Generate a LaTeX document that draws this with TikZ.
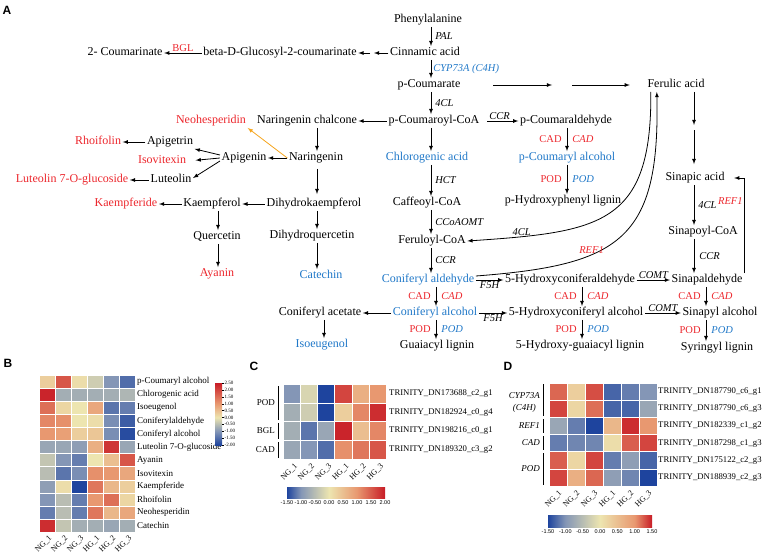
\documentclass[tikz,border=0pt]{standalone}
\usepackage{fontspec}
\setmainfont{Liberation Serif}
\setsansfont{Liberation Sans}
\usetikzlibrary{arrows}

\definecolor{metred}{RGB}{236,38,44}
\definecolor{metblue}{RGB}{32,120,200}
\definecolor{nhorange}{RGB}{245,165,30}
\definecolor{hmblue}{RGB}{30,68,158}
\definecolor{hmgrey}{RGB}{132,150,182}
\definecolor{hmpale}{RGB}{237,229,176}
\definecolor{hmorange}{RGB}{232,152,112}
\definecolor{hmred}{RGB}{200,28,38}

% colour bars (tikz fits the middle 25bp--75bp to the path)
\pgfdeclareverticalshading{hmbarB}{100bp}{color(0bp)=(hmblue); color(25bp)=(hmblue); color(36.1bp)=(hmgrey); color(47.2bp)=(hmpale); color(58.3bp)=(hmorange); color(75bp)=(hmred); color(100bp)=(hmred)}
\pgfdeclarehorizontalshading{hmbarC}{100bp}{color(0bp)=(hmblue); color(25bp)=(hmblue); color(32.15bp)=(hmgrey); color(46.45bp)=(hmpale); color(60.7bp)=(hmorange); color(75bp)=(hmred); color(100bp)=(hmred)}
\pgfdeclarehorizontalshading{hmbarD}{100bp}{color(0bp)=(hmblue); color(25bp)=(hmblue); color(33.35bp)=(hmgrey); color(50bp)=(hmpale); color(66.65bp)=(hmorange); color(75bp)=(hmred); color(100bp)=(hmred)}

% value -> colour hmtmp
\newcommand\hmsetcolor[1]{%
  \pgfmathsetmacro\hmv{#1}%
  \ifdim\hmv pt<-1pt
    \pgfmathsetmacro\hmp{(\hmv+2)*100}%
    \colorlet{hmtmp}{hmgrey!\hmp!hmblue}%
  \else\ifdim\hmv pt<0pt
    \pgfmathsetmacro\hmp{(\hmv+1)*100}%
    \colorlet{hmtmp}{hmpale!\hmp!hmgrey}%
  \else\ifdim\hmv pt<1pt
    \pgfmathsetmacro\hmp{\hmv*100}%
    \colorlet{hmtmp}{hmorange!\hmp!hmpale}%
  \else
    \pgfmathsetmacro\hmp{min(100,(\hmv-1)/1.5*100)}%
    \colorlet{hmtmp}{hmred!\hmp!hmorange}%
  \fi\fi\fi}

\begin{document}
\begin{tikzpicture}[x=1pt, y=-1pt,
  met/.style={font=\fontsize{12}{14}\selectfont, inner sep=1.5pt, text height=8pt, text depth=2.5pt},
  metr/.style={met, text=metred},
  metb/.style={met, text=metblue},
  enz/.style={font=\fontsize{10.5}{12}\selectfont\itshape, inner sep=1pt},
  enzr/.style={enz, text=metred},
  enzb/.style={enz, text=metblue},
  prot/.style={font=\fontsize{10.5}{12}\selectfont, inner sep=1pt, text=metred},
  arr/.style={-latex, line width=0.8pt},
  panel/.style={font=\fontsize{12}{14}\selectfont\sffamily\bfseries, inner sep=0pt},
  hmlab/.style={font=\fontsize{9}{10}\selectfont, inner sep=1pt, anchor=west},
  genelab/.style={font=\fontsize{8.7}{10}\selectfont, inner sep=1pt, anchor=west},
  grplab/.style={font=\fontsize{9}{10}\selectfont, inner sep=1pt, anchor=east, align=center},
  collab/.style={font=\fontsize{8}{9}\selectfont, inner sep=0.5pt, rotate=45, anchor=east},
  ticklab/.style={font=\fontsize{5.5}{6}\selectfont\sffamily, inner sep=0.5pt},
  cell/.style={draw=white, line width=0.5pt}
]
\useasboundingbox (0,0) rectangle (767,554);

% ---------------- panel A ----------------
\node[panel] (labA) at (7,10) {A};

\coordinate (colM) at (431,0);
\coordinate (colM2) at (436,0);
\coordinate (colP) at (567,0);
\coordinate (colH) at (582,0);
\coordinate (colS) at (706,0);
\coordinate (colF) at (694,0);
\coordinate (colN) at (317,0);
\coordinate (colK) at (218,0);
\coordinate (colA) at (324,0);
\coordinate (bgm) at (374,53);
\coordinate (fa2) at (552,85);
\coordinate (fa3) at (572,85);
\coordinate (fb1) at (694,125);
\coordinate (fb2) at (694,130);

\node[met] (phe) at (428,20) {Phenylalanine};
\node[met] (cin) at (425,53) {Cinnamic acid};
\node[met] (bdg) at (280,53) {beta-D-Glucosyl-2-coumarinate};
\node[met] (cou2) at (125,53) {2- Coumarinate};
\node[met] (pcma) at (429,85) {p-Coumarate};
\node[met] (pcoa) at (434,121) {p-Coumaroyl-CoA};
\node[met] (nchal) at (307,121) {Naringenin chalcone};
\node[metr] (neo) at (211,121) {Neohesperidin};
\node[met] (nar) at (316,158) {Naringenin};
\node[met] (api) at (244,158) {Apigenin};
\node[met] (apt) at (170,142) {Apigetrin};
\node[metr] (rho) at (98,142) {Rhoifolin};
\node[metr] (iso) at (162,161) {Isovitexin};
\node[met] (lut) at (171,180) {Luteolin};
\node[metr] (l7g) at (72,180) {Luteolin 7-O-glucoside};
\node[met] (dhk) at (314,204) {Dihydrokaempferol};
\node[met] (kae) at (212,204) {Kaempferol};
\node[metr] (kde) at (126,204) {Kaempferide};
\node[met] (que) at (217,237) {Quercetin};
\node[metr] (aya) at (217,274) {Ayanin};
\node[met] (dhq) at (312,236) {Dihydroquercetin};
\node[metb] (cat) at (321,276) {Catechin};
\node[metb] (chl) at (427,158) {Chlorogenic acid};
\node[met] (caf) at (427,203) {Caffeoyl-CoA};
\node[met] (frl) at (432,241) {Feruloyl-CoA};
\node[metb] (cald) at (428,280) {Coniferyl aldehyde};
\node[metb] (calc) at (435,313) {Coniferyl alcohol};
\node[met] (cac) at (320,313) {Coniferyl acetate};
\node[metb] (ise) at (322,345) {Isoeugenol};
\node[met] (glig) at (437,346) {Guaiacyl lignin};
\node[met] (pcald) at (566,121) {p-Coumaraldehyde};
\node[metb] (pcalc) at (567,158) {p-Coumaryl alcohol};
\node[met] (phl) at (563,201) {p-Hydroxyphenyl lignin};
\node[met] (fer) at (676,85) {Ferulic acid};
\node[met] (sac) at (695,178) {Sinapic acid};
\node[met] (scoa) at (703,232) {Sinapoyl-CoA};
\node[met] (sald) at (707,280) {Sinapaldehyde};
\node[met] (salc) at (720,313) {Sinapyl alcohol};
\node[met] (slig) at (717,348) {Syringyl lignin};
\node[met] (hcald) at (570,280) {5-Hydroxyconiferaldehyde};
\node[met] (hcalc) at (576,313) {5-Hydroxyconiferyl alcohol};
\node[met] (hglig) at (580,346) {5-Hydroxy-guaiacyl lignin};

% main column
\draw[arr] (phe.south -| colM) -- (cin.north -| colM) node[midway, right=3pt, enz] {PAL};
\draw[arr] (cin.south -| colM) -- (pcma.north -| colM) node[midway, right=1pt, enzb] {CYP73A (C4H)};
\draw[arr] (pcma.south -| colM) -- (pcoa.north -| colM) node[midway, right=3pt, enz] {4CL};
\draw[arr] (pcoa.south -| colM) -- (chl.north -| colM);
\draw[arr] (chl.south -| colM) -- (caf.north -| colM) node[midway, right=3pt, enz] {HCT};
\draw[arr] (caf.south -| colM) -- (frl.north -| colM) node[midway, right=3pt, enz] {CCoAOMT};
\draw[arr] (frl.south -| colM) -- (cald.north -| colM) node[midway, right=3pt, enz] {CCR};
\draw[arr] (cald.south -| colM2) -- (calc.north -| colM2) node[midway, left=4pt, prot] {CAD} node[midway, right=4pt, enzr] {CAD};
\draw[arr] (calc.south -| colM2) -- (glig.north -| colM2) node[midway, left=4pt, prot] {POD} node[midway, right=4pt, enzb] {POD};

% flavonoid branch
\draw[arr] (cin.west) -- (bgm);
\draw[arr] ([xshift=-4pt]bgm) -- (bdg.east);
\draw[arr] (bdg.west) -- (cou2.east) node[midway, above, prot] {BGL};
\draw[arr] (pcoa.west) -- (nchal.east);
\draw[arr] (nchal.south -| colN) -- (nar.north -| colN);
\draw[arr] (nar.west) -- (api.east);
\draw[arr, nhorange] (nar.west) -- (neo.south east);
\draw[arr] ([yshift=3pt]api.west) -- (apt.south east);
\draw[arr, shorten >=8pt] (api.west) -- (iso.east);
\draw[arr] ([yshift=-3pt]api.west) -- ([yshift=2pt]lut.east);
\draw[arr] (apt.west) -- (rho.east);
\draw[arr] (lut.west) -- (l7g.east);
\draw[arr, shorten <=4pt, shorten >=3pt] (nar.south -| colN) -- (dhk.north -| colN);
\draw[arr] (dhk.west) -- (kae.east);
\draw[arr] (kae.west) -- (kde.east);
\draw[arr] (kae.south -| colK) -- (que.north -| colK);
\draw[arr] (que.south -| colK) -- (aya.north -| colK);
\draw[arr] (dhk.south -| colN) -- (dhq.north -| colN);
\draw[arr] (dhq.south -| colN) -- (cat.north -| colN);
\draw[arr] (calc.west) -- (cac.east);
\draw[arr] (cac.south -| colA) -- (ise.north -| colA);

% lignin branch
\draw[arr, shorten <=6pt] (pcoa.east) -- (pcald.west) node[midway, above, enz] {CCR};
\draw[arr] (pcald.south -| colP) -- (pcalc.north -| colP) node[midway, left=4pt, prot] {CAD} node[midway, right=4pt, enzr] {CAD};
\draw[arr] (pcalc.south -| colP) -- (phl.north -| colP) node[midway, left=4pt, prot] {POD} node[midway, right=4pt, enzb] {POD};
\draw[arr] (cald.east) -- (hcald.west) node[midway, below, enz] {F5H};
\draw[arr] (calc.east) -- (hcalc.west) node[midway, below, enz] {F5H};
\draw[arr] (hcald.south -| colH) -- (hcalc.north -| colH) node[midway, left=4pt, prot] {CAD} node[midway, right=4pt, enzr] {CAD};
\draw[arr] (hcalc.south -| colH) -- (hglig.north -| colH) node[midway, left=4pt, prot] {POD} node[midway, right=4pt, enzb] {POD};
\draw[arr] (hcald.east) -- (sald.west) node[midway, above, enz] {COMT};
\draw[arr] (hcalc.east) -- (salc.west) node[midway, above, enz] {COMT};
\draw[arr] (sald.south -| colS) -- (salc.north -| colS) node[midway, left=4pt, prot] {CAD} node[midway, right=4pt, enzr] {CAD};
\draw[arr] (salc.south -| colS) -- (slig.north -| colS) node[midway, left=4pt, prot] {POD} node[midway, right=4pt, enzb] {POD};

% ferulic / sinapic
\draw[arr, shorten <=31pt] (pcma.east) -- (fa2);
\draw[arr, shorten >=16pt] (fa3) -- (fer.west);
\draw[arr] (fer.south -| colF) -- (fb1);
\draw[arr, shorten >=7pt] (fb2) -- (sac.north -| colF);
\draw[arr] (sac.south -| colF) -- (scoa.north -| colF) node[midway, right=3pt, enz] {4CL};
\draw[arr] (scoa.south -| colF) -- (sald.north -| colF) node[midway, right=4pt, enz] {CCR};
\draw[arr, shorten >=8pt] (sald.north east) |- (sac.east) node[pos=0.38, left=0pt, enzr] {REF1};
\draw[arr] ([xshift=5pt]fer.south west) .. controls (652,225) and (600,232) .. (frl.east) node[pos=0.85, above, enz] {4CL};
\draw[arr] ([yshift=4pt]cald.east) .. controls (620,265) and (660,240) .. ([xshift=11pt]fer.south west) node[pos=0.35, above, enzr] {REF1};

% ---------------- panel B ----------------
\node[panel] (labB) at (8,363) {B};
\foreach \vals [count=\hr] in {
  {0.3,1.8,0.1,-0.3,-1.0,-1.5},
  {2.4,-0.7,-0.7,-0.7,-0.7,-0.6},
  {1.5,0.2,0.0,0.8,-1.4,-1.3},
  {1.2,1.1,0.0,0.1,-1.1,-1.7},
  {1.0,0.9,0.3,0.4,-1.1,-1.9},
  {-0.8,-0.8,-0.9,0.7,2.2,-0.8},
  {-0.4,-1.0,-1.3,0.0,0.5,1.8},
  {-0.5,-1.4,-1.1,1.1,1.0,0.8},
  {-0.9,0.1,-2.0,1.4,0.6,0.3},
  {-1.0,-0.5,-1.3,1.0,1.5,0.2},
  {-1.3,-0.5,-1.3,1.4,0.6,0.8},
  {2.3,-0.4,-0.7,-0.7,-0.8,-0.7}}{
  \foreach \v [count=\hc] in \vals {
    \hmsetcolor{\v}
    \fill[hmtmp, cell] ({39+(\hc-1)*16},{375+(\hr-1)*13.1}) rectangle ++(16,13.1);
  }
}
\foreach \lab [count=\hr] in {p-Coumaryl alcohol,Chlorogenic acid,Isoeugenol,Coniferylaldehyde,Coniferyl alcohol,Luteolin 7-O-glucoside,Ayanin,Isovitexin,Kaempferide,Rhoifolin,Neohesperidin,Catechin}
  \node[hmlab] (brow\hr) at (136,{375+(\hr-0.5)*13.1}) {\lab};
\foreach \lab [count=\hc] in {NG\_1,NG\_2,NG\_3,HG\_1,HG\_2,HG\_3}
  \node[collab] (bcol\hc) at ({39+(\hc-0.5)*16+4},537) {\lab};
\shade[shading=hmbarB] (215,383) rectangle (222,445);
\foreach \tk [count=\i from 0] in {-2.00,-1.50,-1.00,-0.50,0.00,0.50,1.00,1.50,2.00,2.50}{
  \draw[line width=0.3pt] (222,{445-\i*62/9}) -- ++(2,0);
  \node[ticklab, font=\fontsize{5}{6}\selectfont\rmfamily, anchor=west] (btick\i) at (224,{445-\i*62/9}) {\tk};
}

% ---------------- panel C ----------------
\node[panel] (labC) at (254,366) {C};
\foreach \vals [count=\hr] in {
  {-1.0,-0.2,-2.0,2.0,0.7,1.0},
  {-0.7,-0.3,-2.0,0.3,1.2,2.3},
  {-0.7,-1.4,-0.8,2.4,0.5,1.2},
  {-0.8,-1.0,-1.5,1.1,1.4,1.8}}{
  \foreach \v [count=\hc] in \vals {
    \hmsetcolor{\v}
    \fill[hmtmp, cell] ({283+(\hc-1)*17.2},{384+(\hr-1)*18.75}) rectangle ++(17.2,18.75);
  }
}
\foreach \lab [count=\hr] in {TRINITY\_DN173688\_c2\_g1,TRINITY\_DN182924\_c0\_g4,TRINITY\_DN198216\_c0\_g1,TRINITY\_DN189320\_c3\_g2}
  \node[genelab] (crow\hr) at (388,{384+(\hr-0.5)*18.75}) {\lab};
\foreach \lab [count=\hc] in {NG\_1,NG\_2,NG\_3,HG\_1,HG\_2,HG\_3}
  \node[collab] (ccol\hc) at ({283+(\hc-0.5)*17.2+5},465) {\lab};
\node[grplab] (cpod) at (276,403) {POD};
\node[grplab] (cbgl) at (276,431) {BGL};
\node[grplab] (ccad) at (276,450) {CAD};
\draw[line width=0.6pt] (278.5,386) -- (278.5,420);
\draw[line width=0.6pt] (278.5,423) -- (278.5,439);
\draw[line width=0.6pt] (278.5,442) -- (278.5,458);
\shade[shading=hmbarC] (287,487) rectangle (385,498);
\foreach \tk [count=\i from 0] in {-1.50,-1.00,-0.50,0.00,0.50,1.00,1.50,2.00}
  \node[ticklab, anchor=north] (ctick\i) at ({287+\i*14},499.5) {\tk};

% ---------------- panel D ----------------
\node[panel] (labD) at (508,366) {D};
\foreach \vals [count=\hr] in {
  {1.6,0.3,1.9,-1.6,-1.3,-1.0},
  {2.0,0.2,1.5,-1.6,-1.6,-0.8},
  {-0.8,-1.3,-2.0,0.6,2.3,1.0},
  {-1.3,-1.2,-1.2,0.1,1.7,2.0},
  {1.7,0.2,2.0,-1.3,-0.9,-1.6},
  {2.0,0.7,1.6,-0.9,-1.2,-2.0}}{
  \foreach \v [count=\hc] in \vals {
    \hmsetcolor{\v}
    \fill[hmtmp, cell] ({549+(\hc-1)*18},{383+(\hr-1)*17.17}) rectangle ++(18,17.17);
  }
}
\foreach \lab [count=\hr] in {TRINITY\_DN187790\_c6\_g1,TRINITY\_DN187790\_c6\_g3,TRINITY\_DN182339\_c1\_g2,TRINITY\_DN187298\_c1\_g3,TRINITY\_DN175122\_c2\_g3,TRINITY\_DN188939\_c2\_g3}
  \node[genelab] (drow\hr) at (657,{383+(\hr-0.5)*17.17}) {\lab};
\foreach \lab [count=\hc] in {NG\_1,NG\_2,NG\_3,HG\_1,HG\_2,HG\_3}
  \node[collab] (dcol\hc) at ({549+(\hc-0.5)*18+3},492) {\lab};
\node[grplab, font=\fontsize{9}{12}\selectfont\itshape] (dcyp) at (541,402) {CYP73A\\(C4H)};
\node[grplab, font=\fontsize{9}{10}\selectfont\itshape] (dref) at (541,426) {REF1};
\node[grplab, font=\fontsize{9}{10}\selectfont\itshape] (dcad) at (541,443) {CAD};
\node[grplab, font=\fontsize{9}{10}\selectfont\itshape] (dpod) at (541,469) {POD};
\draw[line width=0.6pt] (543.5,384) -- (543.5,416);
\draw[line width=0.6pt] (543.5,419) -- (543.5,433);
\draw[line width=0.6pt] (543.5,436) -- (543.5,450);
\draw[line width=0.6pt] (543.5,453) -- (543.5,485);
\shade[shading=hmbarD] (548,515) rectangle (652,527);
\foreach \tk [count=\i from 0] in {-1.50,-1.00,-0.50,0.00,0.50,1.00,1.50}
  \node[ticklab, anchor=north] (dtick\i) at ({548+\i*17.33},529) {\tk};

\end{tikzpicture}
\end{document}
